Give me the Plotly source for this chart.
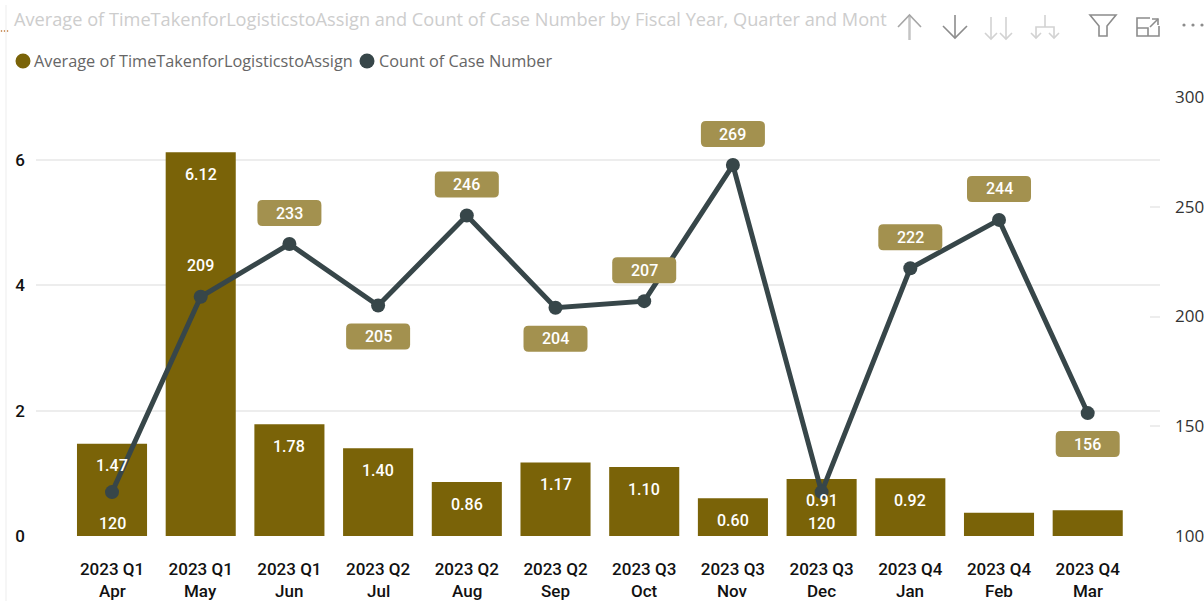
import plotly.graph_objects as go

W, H = 1204, 601
quarters = ["2023 Q1","2023 Q1","2023 Q1","2023 Q2","2023 Q2","2023 Q2","2023 Q3","2023 Q3","2023 Q3","2023 Q4","2023 Q4","2023 Q4"]
months = ["Apr","May","Jun","Jul","Aug","Sep","Oct","Nov","Dec","Jan","Feb","Mar"]
avg_time = [1.47,6.12,1.78,1.40,0.86,1.17,1.10,0.60,0.91,0.92,0.37,0.41]
avg_labelled = [True,True,True,True,True,True,True,True,True,True,False,False]
case_count = [120,209,233,205,246,204,207,269,120,222,244,156]
count_below = [True,False,False,True,False,True,False,False,True,False,False,True]
count_pill = [False,False,True,True,True,True,True,True,False,True,True,True]

BAR = "#7A6308"; LINE = "#374649"; PILL = "#A3914F"; GRID = "#EDEDED"
LABEL_FONT = dict(family="Roboto", size=16, color="#FFFFFF", weight=500)
AXIS_FONT = dict(family="Roboto", size=17, color="#111111", weight=500)

px = lambda v: v / W
py = lambda v: 1 - v / H
x_idx = list(range(len(months)))

fig = go.Figure()
fig.add_trace(go.Bar(x=x_idx, y=avg_time, name="Average of TimeTakenforLogisticstoAssign",
                     marker=dict(color=BAR, line=dict(width=0)), width=0.79, yaxis="y", showlegend=False))
fig.add_trace(go.Scatter(x=x_idx, y=case_count, name="Count of Case Number", mode="lines+markers",
                         line=dict(color=LINE, width=5), marker=dict(color=LINE, size=14),
                         yaxis="y2", showlegend=False))

shapes, ann = [], []

def pill_path(off, a=32, b=13, r=5):
    return (f"M {-a+r} {off-b} L {a-r} {off-b} Q {a} {off-b} {a} {off-b+r} L {a} {off+b-r} Q {a} {off+b} {a-r} {off+b} "
            f"L {-a+r} {off+b} Q {-a} {off+b} {-a} {off+b-r} L {-a} {off-b+r} Q {-a} {off-b} {-a+r} {off-b} Z")

for i, (v, lab) in enumerate(zip(avg_time, avg_labelled)):
    if lab:
        ann.append(dict(x=i, y=v, xref="x", yref="y", yshift=-22, yanchor="middle", text=f"{v:.2f}", showarrow=False, font=LABEL_FONT))
for i, (v, below, pill) in enumerate(zip(case_count, count_below, count_pill)):
    off = -31 if below else 31
    if pill:
        shapes.append(dict(type="path", xsizemode="pixel", ysizemode="pixel", xref="x", yref="y2",
                           xanchor=i, yanchor=v, path=pill_path(off),
                           fillcolor=PILL, line=dict(width=0), layer="above"))
    ann.append(dict(x=i, y=v, xref="x", yref="y2", yshift=off, yanchor="middle", text=str(v), showarrow=False, font=LABEL_FONT))

for i, m in enumerate(months):
    ann.append(dict(x=i, y=py(591), xref="x", yref="paper", yanchor="middle", text=m, showarrow=False, font=AXIS_FONT))

ann.append(dict(x=px(12), y=py(19), xref="paper", yref="paper", xanchor="left", yanchor="middle", showarrow=False,
                text="Average of TimeTakenforLogisticstoAssign and Count of Case Number by Fiscal Year, Quarter and Mont",
                font=dict(family="Open Sans", size=18.2, color="#CDCDCD")))
ann.append(dict(x=px(32), y=py(61), xref="paper", yref="paper", xanchor="left", yanchor="middle", showarrow=False,
                text="Average of TimeTakenforLogisticstoAssign", font=dict(family="Open Sans", size=16.3, color="#666666")))
ann.append(dict(x=px(377), y=py(61), xref="paper", yref="paper", xanchor="left", yanchor="middle", showarrow=False,
                text="Count of Case Number", font=dict(family="Open Sans", size=16.3, color="#666666")))

def circle(cx, cy, r, col):
    shapes.append(dict(type="circle", xref="paper", yref="paper", x0=px(cx-r), x1=px(cx+r), y0=py(cy+r), y1=py(cy-r),
                       fillcolor=col, line=dict(width=0)))
circle(23, 61, 7.5, BAR)
circle(367, 61, 7.5, LINE)
for cx in (1.5, 4.5, 7.5):
    circle(cx, 31, 0.8, "#B5651D")

def poly(pts, col, w=1.6, close=False):
    d = "M " + " L ".join(f"{px(a):.5f} {py(b):.5f}" for a, b in pts) + (" Z" if close else "")
    shapes.append(dict(type="path", xref="paper", yref="paper", path=d, line=dict(color=col, width=w),
                       fillcolor="rgba(0,0,0,0)"))

poly([(909.5,15),(909.5,40)], "#C4C4C4", 2.5); poly([(898,27),(909.5,15),(921,27)], "#A6A6A6")
poly([(955,15),(955,38)], "#8C8C8C"); poly([(943,26),(955,38),(967,26)], "#8C8C8C")
for cx in (991,1006):
    poly([(cx,17),(cx,39)], "#D2D2D2"); poly([(cx-6,33),(cx,39),(cx+6,33)], "#D2D2D2")
poly([(1045,15),(1045,27)], "#D2D2D2"); poly([(1036,38),(1036,27),(1054,27),(1054,38)], "#D2D2D2")
for cx in (1036,1054):
    poly([(cx-5,33),(cx,38),(cx+5,33)], "#D2D2D2")
poly([(1090,15),(1116,15),(1107,26),(1107,36),(1099,36),(1099,26)], "#8C8C8C", close=True)
poly([(1150,18),(1137,18),(1137,36),(1159,36),(1159,26)], "#8C8C8C")
poly([(1137,28),(1148,28),(1148,36)], "#8C8C8C")
poly([(1150,27),(1158,19)], "#8C8C8C"); poly([(1152,19),(1158,19),(1158,25)], "#8C8C8C")
for cx in (1184,1193,1202):
    circle(cx, 25, 1.6, "#8C8C8C")
poly([(6,5),(6,601)], "#EDEDED", 1)

fig.update_layout(
    width=W, height=H, margin=dict(l=0, r=0, t=0, b=0, autoexpand=False), plot_bgcolor="#FFFFFF", paper_bgcolor="#FFFFFF",
    showlegend=False, shapes=shapes, annotations=ann,
    xaxis=dict(domain=[px(36), px(1160)], range=[-0.857, 11.815], tickmode="array", tickvals=x_idx, ticktext=quarters,
               tickfont=AXIS_FONT, ticks="", showgrid=False, zeroline=False, showline=False, ticklabelstandoff=21, automargin=False),
    yaxis=dict(domain=[py(536), py(97)], range=[0, 7], tickvals=[0,2,4,6], tickfont=AXIS_FONT, showgrid=True, gridcolor=GRID,
               gridwidth=1.5, zeroline=False, ticks="", ticklabelstandoff=10, automargin=False),
    yaxis2=dict(domain=[py(536), py(97)], range=[100, 300], tickvals=[100,150,200,250,300], overlaying="y", side="right",
                anchor="x", showgrid=False, zeroline=False, ticks="inside", ticklen=10, tickcolor=GRID, tickwidth=1.5,
                ticklabelstandoff=14, automargin=False, tickfont=dict(family="Open Sans", size=17, color="#333333")),
)
fig.write_html("out.html", config={"displayModeBar": False},
               post_script="document.body.style.margin='0';document.body.style.overflow='hidden';")
